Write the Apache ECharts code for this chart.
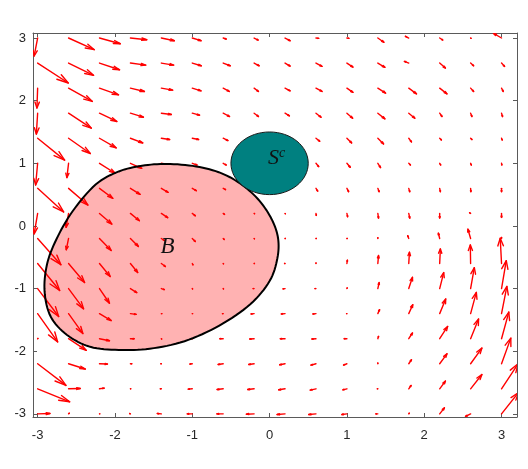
<!DOCTYPE html>
<html><head><meta charset="utf-8">
<script src="https://cdn.jsdelivr.net/npm/echarts@6/dist/echarts.min.js"></script>
<style>html,body{margin:0;padding:0;background:#fff}#c{width:528px;height:469px}</style>
</head><body><div id="c"></div>
<script>
// grid of arrow tails
const xGrid = [-3,-2.6,-2.2,-1.8,-1.4,-1,-0.6,-0.2,0.2,0.6,1,1.4,1.8,2.2,2.6,3];
const yGrid = [3,2.6,2.2,1.8,1.4,1,0.6,0.2,-0.2,-0.6,-1,-1.4,-1.8,-2.2,-2.6,-3];
// arrow x-components (rows follow yGrid, columns follow xGrid), null = hidden under S^c
const U = [
 [-0.045,0.332,0.268,0.211,0.168,0.113,0.039,0.052,0.065,0.035,0.026,0.078,-0.043,0.039,0.006,-0.103],
 [0.396,0.323,0.259,0.198,0.159,0.116,0.091,0.065,0.065,0.078,0.078,0.091,-0.056,0.074,0.039,0.039],
 [-0.009,0.307,0.246,0.181,0.146,0.113,0.078,0.056,0.065,0.078,0.078,0.100,0.100,0.094,0.039,0.022],
 [-0.017,0.294,0.224,0.168,0.129,0.094,0.082,0.056,0.056,0.065,0.074,0.091,0.078,0.030,0.017,0.013],
 [0.349,0.281,0.216,0.159,0.107,0.082,0.061,null,null,0.048,0.061,0.074,0.035,0.022,0.017,0.009],
 [-0.026,-0.022,0.203,0.146,0.065,0.061,0.039,null,null,0.035,0.043,0.035,0.022,0.013,0.009,0.004],
 [0.336,0.250,0.172,0.125,0.087,0.052,0.030,null,null,0.022,0.022,0.017,0.013,0.009,0.004,0],
 [-0.045,-0.032,0.159,0.116,0.082,0.039,0.017,0.006,0.004,0.004,0.009,0.009,0.013,0,-0.013,0],
 [0.301,-0.030,0.151,0.103,0.039,0.039,0.013,0.004,0.004,0.004,0.004,0,-0.013,-0.017,-0.035,0],
 [0.285,0.207,0.138,0.094,0.052,0.009,0.004,0.004,-0.006,0,0.006,0.009,0.009,0.009,-0.004,-0.017],
 [0.272,0.194,0.129,0.082,0.039,0.004,0.004,-0.013,-0.026,-0.013,0.004,0.017,0.048,0.052,0.048,0.061],
 [0.259,0.185,0.151,0.074,0.006,0.004,-0.009,-0.039,-0.048,-0.039,-0.004,0.022,0.052,0.078,0.074,0.069],
 [0.004,0.229,0.129,0.048,0.004,-0.006,-0.043,-0.056,-0.061,-0.052,-0.035,0.009,0.048,0.103,0.103,0.094],
 [0.366,0.216,0.103,0.017,-0.006,-0.030,-0.065,-0.069,-0.069,-0.065,-0.043,0,0.035,0.094,0.146,0.120],
 [0.414,0.151,0.061,0.004,-0.013,-0.052,-0.078,-0.082,-0.082,-0.074,-0.052,-0.006,0.030,0.074,0.146,0.213],
 [0.159,0.009,0.004,-0.009,-0.052,-0.065,-0.082,-0.100,-0.103,-0.094,-0.065,-0.026,0.006,0.061,-0.065,0.220]
];
// arrow y-components
const V = [
 [-0.287,-0.186,-0.091,-0.027,-0.043,-0.043,-0.016,-0.032,-0.043,-0.005,-0.005,-0.068,0.027,-0.032,-0.005,0.073],
 [-0.318,-0.196,-0.107,-0.032,-0.032,-0.043,-0.043,-0.043,-0.048,-0.053,-0.064,-0.068,0.027,-0.080,-0.043,-0.053],
 [-0.318,-0.212,-0.107,-0.053,-0.032,-0.043,-0.053,-0.053,-0.043,-0.053,-0.068,-0.080,-0.091,-0.091,-0.053,-0.053],
 [-0.334,-0.239,-0.132,-0.064,-0.021,-0.032,-0.053,-0.053,-0.043,-0.064,-0.080,-0.091,-0.080,-0.053,-0.053,-0.053],
 [-0.350,-0.244,-0.154,-0.075,-0.021,-0.021,-0.037,null,null,-0.048,-0.075,-0.091,-0.059,-0.027,-0.021,-0.027],
 [-0.346,-0.228,-0.159,-0.080,-0.016,-0.027,-0.027,null,null,-0.053,-0.064,-0.068,-0.027,-0.027,-0.027,-0.027],
 [-0.377,-0.266,-0.159,-0.096,-0.064,-0.037,-0.021,null,null,-0.043,-0.053,-0.053,-0.053,-0.053,-0.053,-0.053],
 [-0.326,-0.223,-0.170,-0.116,-0.068,-0.037,-0.016,-0.005,-0.005,-0.032,-0.053,-0.075,-0.075,-0.075,0.011,-0.064],
 [-0.419,-0.180,-0.191,-0.127,-0.032,-0.048,-0.016,-0.005,0,0,0,0.011,0.043,0.084,0.148,0.016],
 [-0.430,-0.303,-0.207,-0.143,-0.048,-0.021,-0.005,0,0,0.008,0.053,0.127,0.180,0.234,0.298,0.403],
 [-0.446,-0.323,-0.234,-0.064,-0.016,-0.005,-0.005,0,-0.005,0,0.011,0.096,0.180,0.255,0.334,0.446],
 [-0.451,-0.318,-0.111,-0.011,0,0,0,-0.005,-0.005,-0.005,0,0.064,0.143,0.234,0.339,0.435],
 [0.005,-0.186,-0.032,0,-0.005,0,0,-0.005,0,-0.005,0,0.037,0.091,0.196,0.314,0.425],
 [-0.346,-0.084,-0.005,0,0,-0.005,-0.011,-0.011,-0.016,-0.021,-0.021,0.011,0.064,0.159,0.250,0.409],
 [-0.207,0.005,0.011,0,0,-0.005,-0.011,-0.011,-0.016,-0.021,-0.016,0,0.053,0.123,0.228,0.398],
 [0.005,0.011,0,0.005,0.005,0,0,-0.005,-0.011,-0.011,-0.011,0,0.011,0.096,-0.040,0.342]
];
// boundary of region B
const bX = [-1.33,-0.95,-0.62,-0.35,-0.13,0.03,0.11,0.10,0.00,-0.25,-0.65,-1.10,-1.55,-1.95,-2.32,-2.62,-2.83,-2.91,-2.88,-2.76,-2.55,-2.25,-1.95,-1.65];
const bY = [0.99,0.95,0.84,0.65,0.40,0.10,-0.20,-0.52,-0.88,-1.25,-1.59,-1.84,-1.96,-1.98,-1.93,-1.74,-1.45,-1.05,-0.62,-0.22,0.23,0.66,0.87,0.96];
// disc S^c
const sCenter = [0, 1];
const sRadius = 0.5;
// labels
const labelText = ['B', 'S'];
const labelPos = [[-1.32, -0.33], [0.09, 1.08]];
const xTicks = [-3,-2,-1,0,1,2,3];
const yTicks = [-3,-2,-1,0,1,2,3];

const arrows = [];
yGrid.forEach((y, i) => xGrid.forEach((x, j) => {
  if (U[i][j] !== null) arrows.push([x, y, U[i][j], V[i][j]]);
}));
const bPts = bX.map((x, k) => [x, bY[k]]);

// closed Catmull-Rom curve through pixel points (rendering helper)
function closedSpline(p, steps) {
  const n = p.length, out = [];
  for (let i = 0; i < n; i++) {
    const p0 = p[(i - 1 + n) % n], p1 = p[i], p2 = p[(i + 1) % n], p3 = p[(i + 2) % n];
    for (let s = 0; s < steps; s++) {
      const t = s / steps, t2 = t * t, t3 = t2 * t;
      const f = (a, b, c, d) => 0.5 * ((2 * b) + (-a + c) * t + (2 * a - 5 * b + 4 * c - d) * t2 + (-a + 3 * b - 3 * c + d) * t3);
      out.push([f(p0[0], p1[0], p2[0], p3[0]), f(p0[1], p1[1], p2[1], p3[1])]);
    }
  }
  return out;
}

const chart = echarts.init(document.getElementById('c'));
const axCol = '#5a5a5a';
function xAx(pos, lab) {
  return {type:'value', min:-3.06, max:3.2, position:pos,
    axisLine:{show:true, onZero:false, lineStyle:{color:axCol, width:1}},
    axisTick:{show:true, inside:true, length:4, customValues:xTicks, lineStyle:{color:axCol}},
    axisLabel:{show:lab, customValues:xTicks, color:'#262626', fontSize:13, margin:12, fontFamily:'Liberation Sans, Arial, sans-serif'},
    splitLine:{show:false}};
}
function yAx(pos, lab) {
  return {type:'value', min:-3.05, max:3.08, position:pos,
    axisLine:{show:true, onZero:false, lineStyle:{color:axCol, width:1}},
    axisTick:{show:true, inside:true, length:4, customValues:yTicks, lineStyle:{color:axCol}},
    axisLabel:{show:lab, customValues:yTicks, color:'#262626', fontSize:13, margin:7, fontFamily:'Liberation Sans, Arial, sans-serif'},
    splitLine:{show:false}};
}
const alpha = 0.3, beta = 0.3;
chart.setOption({
  animation:false,
  backgroundColor:'#fff',
  grid:{left:33, right:11, top:33, bottom:52},
  xAxis:[xAx('bottom', true), xAx('top', false)],
  yAxis:[yAx('left', true), yAx('right', false)],
  series:[
    {type:'custom', clip:true, z:2, data:arrows,
     renderItem:function(params, api){
       const x=api.value(0), y=api.value(1), u=api.value(2), v=api.value(3);
       const p0=api.coord([x,y]), p1=api.coord([x+u,y+v]);
       const h1=api.coord([x+u-alpha*(u+beta*v), y+v-alpha*(v-beta*u)]);
       const h2=api.coord([x+u-alpha*(u-beta*v), y+v-alpha*(v+beta*u)]);
       const st={stroke:'#ff0000', lineWidth:1.4, lineCap:'round', lineJoin:'round', fill:null};
       return {type:'group', children:[
         {type:'line', shape:{x1:p0[0],y1:p0[1],x2:p1[0],y2:p1[1]}, style:st},
         {type:'polyline', shape:{points:[h1,p1,h2]}, style:st}
       ]};
     }},
    {type:'custom', clip:true, z:3, data:bPts,
     renderItem:function(params, api){
       if (params.dataIndex !== 0) return null;
       const pts = closedSpline(bPts.map(p => api.coord(p)), 8);
       return {type:'polygon', shape:{points:pts},
         style:{fill:'rgba(255,0,0,0.3)', stroke:'#000', lineWidth:2}};
     }},
    {type:'custom', clip:true, z:4, data:[[sCenter[0], sCenter[1], sRadius]],
     renderItem:function(params, api){
       const c = api.coord([api.value(0), api.value(1)]);
       const s = api.size([api.value(2), api.value(2)]);
       return {type:'ellipse', shape:{cx:c[0], cy:c[1], rx:s[0], ry:s[1]},
         style:{fill:'#008080', stroke:'#1a1a1a', lineWidth:1}};
     }},
    {type:'custom', clip:false, z:5, data:labelPos,
     renderItem:function(params, api){
       const c = api.coord([api.value(0), api.value(1)]);
       const t = labelText[params.dataIndex];
       const isS = t === 'S';
       return {type:'text', x:c[0], y:c[1], style:{
         text: isS ? '{m|S}{sup|c}' : '{m|B}',
         align:'center', verticalAlign:'middle',
         rich:{
           m:{fontFamily:'Liberation Serif, DejaVu Serif, serif', fontStyle:'italic', fontSize:isS?22:23, fill:'#111'},
           sup:{fontFamily:'Liberation Serif, DejaVu Serif, serif', fontStyle:'italic', fontSize:14, fill:'#111', verticalAlign:'top', padding:[0,0,10,0]}
         }}};
     }}
  ]
});
</script></body></html>
